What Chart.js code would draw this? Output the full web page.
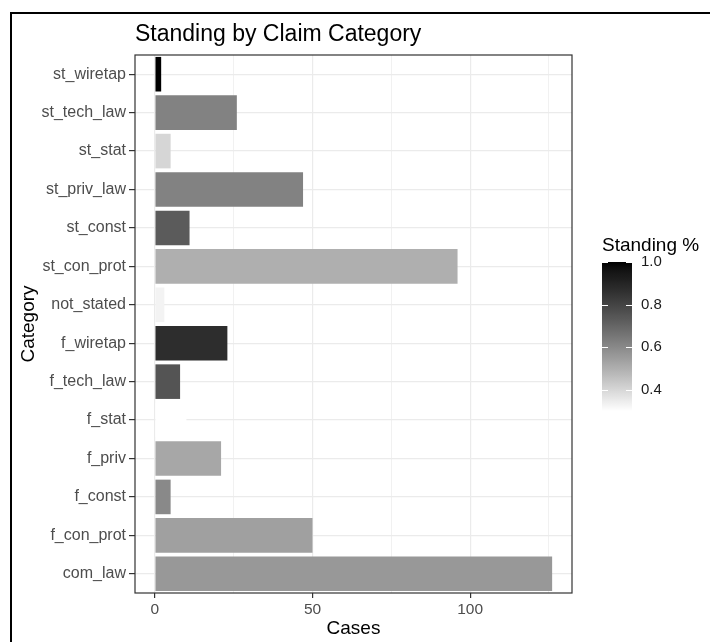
<!DOCTYPE html>
<html lang="en">
<head>
<meta charset="UTF-8" />
<title>Standing by Claim Category</title>
<script src="https://cdn.jsdelivr.net/npm/chart.js"></script>
<style>
  body { margin: 0; background: #fff; }
</style>
</head>
<body>
<canvas id="standingChart" width="710" height="642"></canvas>
<script>
const categories = ["st_wiretap", "st_tech_law", "st_stat", "st_priv_law", "st_const", "st_con_prot", "not_stated",
  "f_wiretap", "f_tech_law", "f_stat", "f_priv", "f_const", "f_con_prot", "com_law"];
const cases = [2, 26, 5, 47, 11, 96, 3, 23, 8, 10, 21, 5, 50, 126];
const standing = [1.0, 0.62, 0.4, 0.62, 0.73, 0.5, 0.33, 0.87, 0.75, 0.3, 0.52, 0.6, 0.54, 0.56];
const xTicks = [0, 25, 50, 75, 100, 125];
const legendTicks = [0.4, 0.6, 0.8, 1.0];

const FONT = "'Liberation Sans', Arial, sans-serif";
const sMin = Math.min(...standing);
const sMax = Math.max(...standing);
const maxCases = Math.max(...cases);

// white -> black gradient, interpolated on Lab lightness like ggplot
function greyFor(v) {
  const t = (v - sMin) / (sMax - sMin);
  const L = 100 * (1 - t);
  const Y = L > 8 ? Math.pow((L + 16) / 116, 3) : L / 903.3;
  const c = Y <= 0.0031308 ? 12.92 * Y : 1.055 * Math.pow(Y, 1 / 2.4) - 0.055;
  const g = Math.round(Math.max(0, Math.min(1, c)) * 255);
  return `rgb(${g},${g},${g})`;
}

const decorations = {
  id: "decorations",
  beforeDraw(chart) {
    const ctx = chart.ctx;
    ctx.save();
    ctx.fillStyle = "#fff";
    ctx.fillRect(0, 0, chart.width, chart.height);
    // outer frame (only left and top edges are in view)
    ctx.strokeStyle = "#000";
    ctx.lineWidth = 2;
    ctx.beginPath();
    ctx.moveTo(11, chart.height);
    ctx.lineTo(11, 13);
    ctx.lineTo(chart.width, 13);
    ctx.stroke();
    ctx.restore();
  },
  afterDraw(chart) {
    const ctx = chart.ctx;
    const a = chart.chartArea;
    ctx.save();
    // panel border
    ctx.strokeStyle = "#333";
    ctx.lineWidth = 1.2;
    ctx.strokeRect(a.left, a.top, a.right - a.left, a.bottom - a.top);

    // title
    ctx.fillStyle = "#000";
    ctx.font = `23px ${FONT}`;
    ctx.textBaseline = "alphabetic";
    ctx.textAlign = "left";
    ctx.fillText("Standing by Claim Category", a.left, 41);

    // colourbar legend
    const lgLeft = 602, lgRight = 632, lgTop = 262, lgBottom = 411;
    const yOf = v => lgBottom - (v - sMin) / (sMax - sMin) * (lgBottom - lgTop);
    const grad = ctx.createLinearGradient(0, lgBottom, 0, lgTop);
    for (let i = 0; i <= 50; i++) {
      const v = sMin + (sMax - sMin) * i / 50;
      grad.addColorStop(i / 50, greyFor(v));
    }
    ctx.fillStyle = grad;
    ctx.fillRect(lgLeft, lgTop, lgRight - lgLeft, lgBottom - lgTop);

    ctx.strokeStyle = "#fff";
    ctx.lineWidth = 1;
    legendTicks.forEach(v => {
      const y = Math.round(yOf(v)) + 0.5;
      ctx.beginPath();
      ctx.moveTo(lgLeft, y); ctx.lineTo(lgLeft + 6, y);
      ctx.moveTo(lgRight - 6, y); ctx.lineTo(lgRight, y);
      ctx.stroke();
    });

    ctx.fillStyle = "#000";
    ctx.font = `19px ${FONT}`;
    ctx.fillText("Standing %", lgLeft, 251);

    ctx.fillStyle = "#1a1a1a";
    ctx.font = `15px ${FONT}`;
    ctx.textBaseline = "middle";
    legendTicks.forEach(v => {
      ctx.fillText(v.toFixed(1), 641, yOf(v));
    });
    ctx.restore();
  }
};

new Chart(document.getElementById("standingChart"), {
  type: "bar",
  data: {
    labels: categories,
    datasets: [{
      data: cases,
      backgroundColor: standing.map(greyFor),
      borderWidth: 0,
      categoryPercentage: 0.9,
      barPercentage: 1
    }]
  },
  options: {
    indexAxis: "y",
    responsive: false,
    animation: false,
    layout: { padding: { top: 55, right: 138, left: 0, bottom: 0 } },
    plugins: {
      legend: { display: false },
      tooltip: { enabled: false }
    },
    scales: {
      x: {
        min: -0.05 * maxCases,
        max: 1.05 * maxCases,
        afterFit: s => { s.height = 49; },
        afterBuildTicks: s => { s.ticks = xTicks.map(v => ({ value: v })); },
        ticks: {
          callback: v => (v % 50 === 0 ? v : ""),
          color: "#4d4d4d",
          font: { family: FONT, size: 15.5 },
          padding: 2,
          maxRotation: 0,
          autoSkip: false
        },
        grid: {
          color: "#ebebeb",
          lineWidth: c => (c.tick && c.tick.value % 50 === 0 ? 1.2 : 0.7),
          tickColor: c => (c.tick && c.tick.value % 50 === 0 ? "#333" : "rgba(0,0,0,0)"),
          tickLength: 5
        },
        border: { display: false },
        title: {
          display: true,
          text: "Cases",
          color: "#000",
          font: { family: FONT, size: 19 },
          padding: { top: 0, bottom: 2 }
        }
      },
      y: {
        afterFit: s => { s.width = 135; },
        ticks: {
          color: "#4d4d4d",
          font: { family: FONT, size: 16 },
          padding: 3,
          autoSkip: false
        },
        grid: {
          offset: false,
          color: "#ebebeb",
          lineWidth: 1.2,
          tickColor: "#333",
          tickLength: 6
        },
        border: { display: false },
        title: {
          display: true,
          text: "Category",
          color: "#000",
          font: { family: FONT, size: 19 },
          padding: { top: 17, bottom: 0 }
        }
      }
    }
  },
  plugins: [decorations]
});
</script>
</body>
</html>
